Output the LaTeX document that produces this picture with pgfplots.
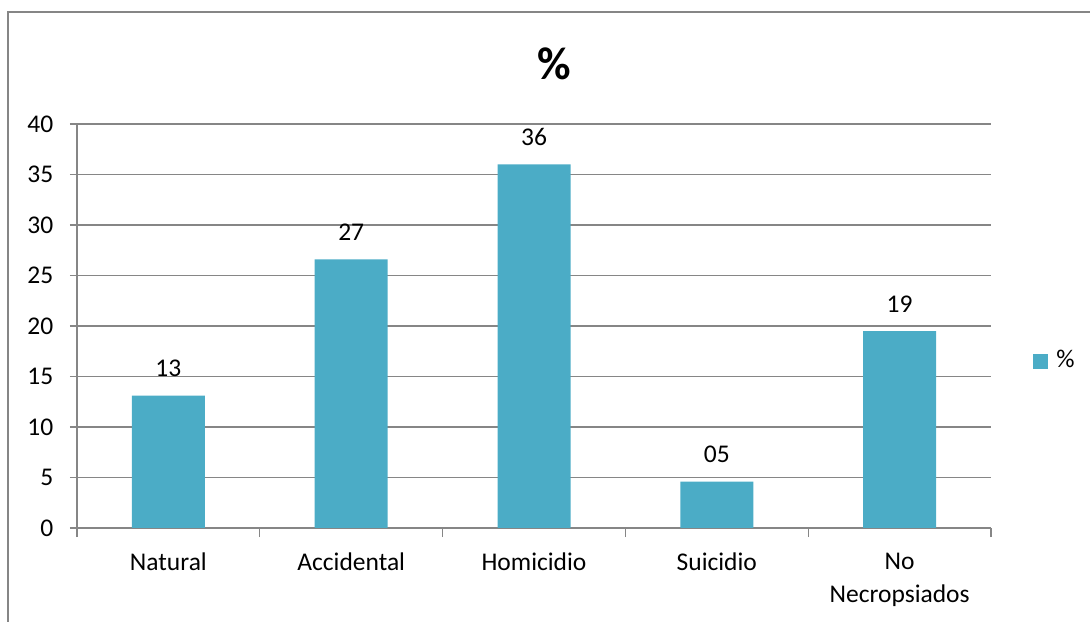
\documentclass[border=0pt]{standalone}
\usepackage{pgfplots}
\pgfplotsset{compat=1.18}
\usepackage{fontspec}
\setmainfont{Carlito}
\definecolor{barblue}{HTML}{4BACC6}
\definecolor{axgray}{HTML}{868686}
\begin{document}
\fontsize{25.5bp}{30bp}\selectfont
\begin{tikzpicture}
\useasboundingbox (0,0) rectangle (1090bp,622bp);
\draw[axgray, line width=1.2bp] (8bp,-20bp) -- (8bp,610bp) -- (1100bp,610bp);
\begin{axis}[
  at={(77bp,94bp)}, anchor=south west,
  scale only axis, width=914bp, height=404bp,
  xmin=-0.5, xmax=4.5, ymin=0, ymax=40,
  ytick={0,5,...,40},
  xtick={0,1,2,3,4},
  xticklabels={Natural,Accidental,Homicidio,Suicidio,{No\\Necropsiados}},
  xticklabel style={align=center, anchor=north, yshift=-9bp, font=\fontsize{25.5bp}{33bp}\selectfont},
  minor xtick={-0.5,0.5,1.5,2.5,3.5,4.5},
  major x tick style={draw=none},
  tick align=outside,
  major tick length=7bp, minor tick length=9bp,
  tick style={axgray, line width=1.2bp},
  axis x line*=bottom, axis y line*=left,
  axis line style={axgray, line width=1.2bp, -},
  ymajorgrids, grid style={axgray, line width=1.2bp},
  yticklabel style={xshift=-8bp, font=\fontsize{25.5bp}{30bp}\selectfont},
  /pgf/number format/assume math mode=true,
  ybar, bar width=73bp, bar shift=0pt,
  nodes near coords={\pgfplotspointmeta},
  point meta=explicit symbolic,
  every node near coord/.append style={font=\fontsize{25.5bp}{30bp}\selectfont, anchor=base, yshift=19bp},
  legend style={draw=none, fill=none, at={(1.046,0.413)}, anchor=west, inner sep=0pt,
     font=\fontsize{25.5bp}{30bp}\selectfont},
  legend image code/.code={\fill[barblue] (0bp,-7.5bp) rectangle (15bp,7.5bp);},
]
\addplot[fill=barblue, draw=none] table[meta=lab] {
x y lab
0 13.1 13
1 26.6 27
2 36.0 36
3 4.6 05
4 19.5 19
};
\addlegendentry{\hspace{6bp}\%}
\end{axis}
\node[font=\bfseries\fontsize{46bp}{50bp}\selectfont] at (554bp,558bp) {\%};
\end{tikzpicture}
\end{document}
